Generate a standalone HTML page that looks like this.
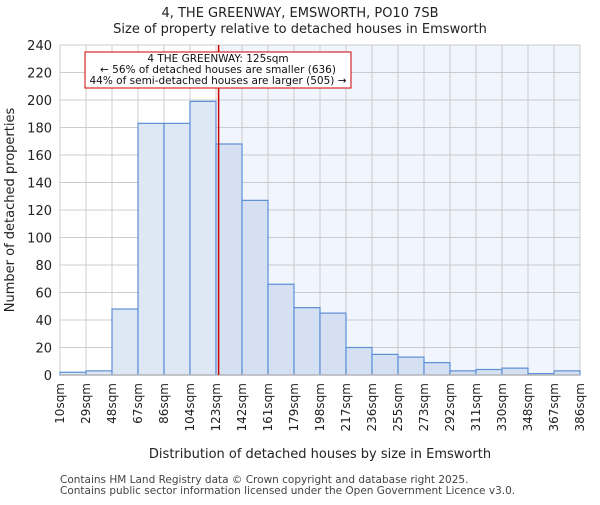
<!DOCTYPE html>
<html><head><meta charset="utf-8"><style>body{margin:0;background:#fff}svg{font-family:"DejaVu Sans","Liberation Sans",sans-serif}</style></head>
<body>
<svg id="c" width="600" height="500"></svg>
<script>
const binLabels=["10sqm","29sqm","48sqm","67sqm","86sqm","104sqm","123sqm","142sqm","161sqm","179sqm","198sqm","217sqm","236sqm","255sqm","273sqm","292sqm","311sqm","330sqm","348sqm","367sqm","386sqm"];
const counts=[2,3,48,183,183,199,168,127,66,49,45,20,15,13,9,3,4,5,1,3];
const yTicks=[0,20,40,60,80,100,120,140,160,180,200,220,240];
const propertyIndex=6.1;
const NS="http://www.w3.org/2000/svg",svg=document.getElementById('c');
const L=60,R=580,T=45,B=375,yMax=240;
const x=i=>L+(R-L)*i/counts.length, y=v=>B-(B-T)*v/yMax;
function el(t,a,txt){const e=document.createElementNS(NS,t);for(const k in a)e.setAttribute(k,a[k]);if(txt!=null)e.textContent=txt;svg.appendChild(e);return e;}
const px=x(propertyIndex);
let e=el('rect',{x:px,y:T,width:R-px,height:B-T,fill:'#f1f5fe'});

yTicks.forEach(v=>{let g=el('line',{x1:L,x2:R,y1:y(v),y2:y(v),stroke:'#cccccc'});
let t=el('text',{x:L-8,y:y(v)+5,'text-anchor':'end','font-size':13,fill:'#222'},v);});
binLabels.forEach((s,i)=>{let g=el('line',{x1:x(i),x2:x(i),y1:T,y2:B,stroke:'#cccccc'});
let t=el('text',{transform:`translate(${x(i)+4},${B+8}) rotate(-90)`,'text-anchor':'end','font-size':12,fill:'#222'},s);});
counts.forEach((v,i)=>{let b=el('rect',{x:x(i),y:y(v),width:x(i+1)-x(i),height:B-y(v),fill:i<6?'#dee7f4':'#d5e1f3',stroke:'#5b8fd6','stroke-width':1.2});});
e=el('line',{x1:L,x2:R,y1:B,y2:B,stroke:'#bbbbbb','stroke-width':1.5});
e=el('line',{x1:px,x2:px,y1:T,y2:B,stroke:'#cc0000','stroke-width':1.5});
e=el('rect',{x:85,y:52,width:266,height:36,fill:'#fff',stroke:'#cc0000'});
[["4 THE GREENWAY: 125sqm",62],["← 56% of detached houses are smaller (636)",73],["44% of semi-detached houses are larger (505) →",84]].forEach(a=>{let t=el('text',{x:218,y:a[1],'text-anchor':'middle','font-size':10.5,fill:'#111'},a[0]);});
[["4, THE GREENWAY, EMSWORTH, PO10 7SB",17],["Size of property relative to detached houses in Emsworth",33]].forEach(a=>{let t=el('text',{x:300,y:a[1],'text-anchor':'middle','font-size':13,fill:'#222'},a[0]);});
e=el('text',{x:320,y:458,'text-anchor':'middle','font-size':13,fill:'#222'},'Distribution of detached houses by size in Emsworth');
e=el('text',{transform:'translate(14,210) rotate(-90)','text-anchor':'middle','font-size':13,fill:'#222'},'Number of detached properties');
e=el('text',{x:60,y:483,'font-size':10.5,fill:'#444'},'Contains HM Land Registry data © Crown copyright and database right 2025.');
e=el('text',{x:60,y:494,'font-size':10.5,fill:'#444'},'Contains public sector information licensed under the Open Government Licence v3.0.');
</script>
</body></html>
